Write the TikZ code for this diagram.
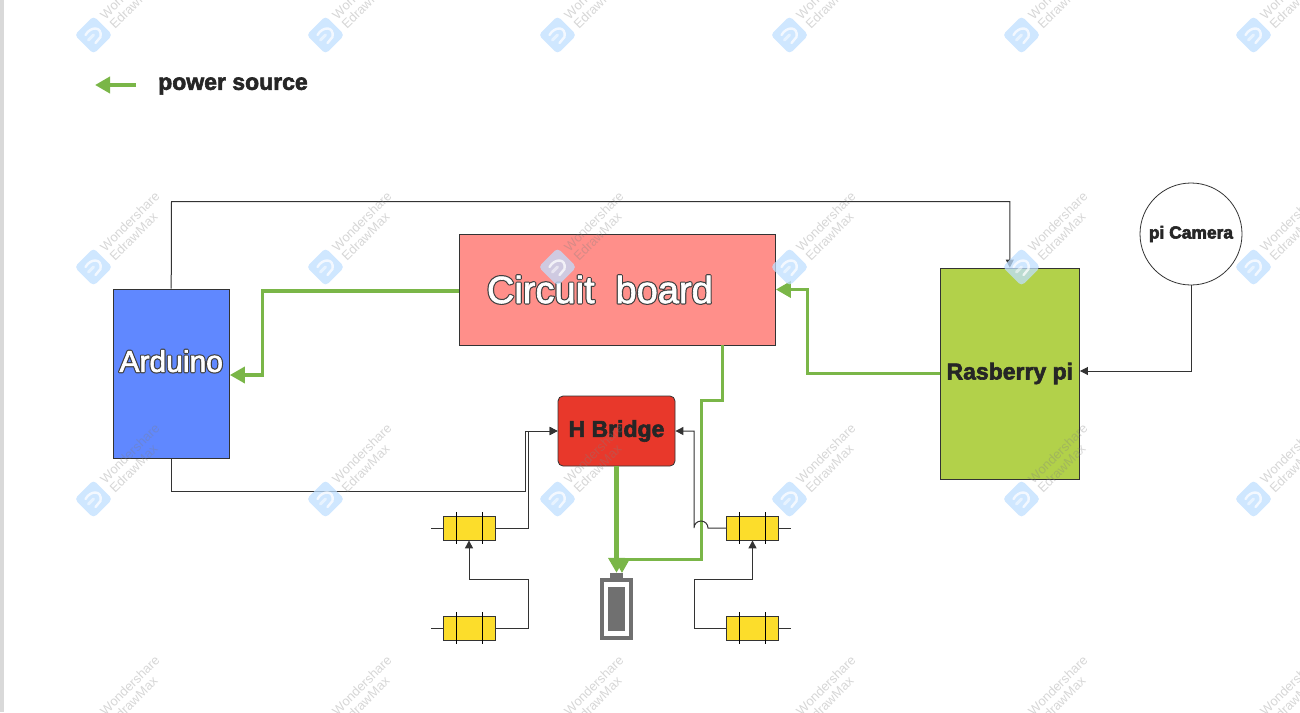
\documentclass[tikz,border=0pt]{standalone}
\usepackage{fontspec}
\setmainfont{Liberation Sans}
\usetikzlibrary{arrows.meta, positioning, calc}
\definecolor{powergreen}{HTML}{7AB648}
\definecolor{linedark}{HTML}{333333}
\definecolor{ardblue}{HTML}{6088FF}
\definecolor{boardred}{HTML}{FF8F8A}
\definecolor{bridgered}{HTML}{E8382B}
\definecolor{pigreen}{HTML}{B2D14A}
\definecolor{resyellow}{HTML}{FCDD2B}
\definecolor{batgray}{HTML}{707070}
\definecolor{wmblue}{HTML}{BFDFFF}
\newcommand{\hollowtext}[1]{\rlap{\special{pdf:code q 1 j 1 Tr 3 w 0.25 0.25 0.25 RG}#1\special{pdf:code Q}}\special{pdf:code q 2 Tr 0.6 w 1 1 1 RG 1 1 1 rg}#1\special{pdf:code Q}}
\newcommand{\heavytext}[1]{\special{pdf:code q 2 Tr 0.6 w 0.15 0.15 0.15 RG 0.15 0.15 0.15 rg}#1\special{pdf:code Q}}
\tikzset{
  block/.style={rectangle, draw=linedark, line width=0.8pt, align=center},
  wire/.style={draw=linedark, line width=1pt},
  wirearrow/.style={wire, -{Triangle[length=8pt,width=8pt]}},
  power/.style={draw=powergreen, line width=3.5pt, -{Triangle[length=15pt,width=16pt]}},
  resistor/.style={rectangle, draw=linedark, line width=0.8pt, fill=resyellow, minimum width=52pt, minimum height=24pt, inner sep=0pt},
  resbar/.style={draw=black, line width=1pt},
  boldlabel/.style={font=\fontsize{23}{25}\selectfont\bfseries}
}
\begin{document}
\begin{tikzpicture}[x=1pt, y=-1pt]
    \useasboundingbox (0,0) rectangle (1300,712);
    \clip (0,0) rectangle (1300,712);
    \fill[gray!30] (0,0) rectangle (3.5,712);

    % Blocks
    \node[block, fill=ardblue, minimum width=116.5pt, minimum height=169pt, inner sep=0pt] (arduino) at (171.2,373.5)
      {\raisebox{25pt}{\fontsize{30}{32}\selectfont\hollowtext{Arduino}}};
    \node[block, fill=boardred, minimum height=111pt, text width=260.5pt, inner xsep=28pt, inner ysep=0pt, align=left] (board) at (617.2,289.5)
      {\fontsize{38}{40}\selectfont\hollowtext{Circuit\hspace{21pt}board}};
    \node[block, boldlabel, fill=bridgered, rounded corners=5pt, minimum width=117pt, minimum height=70pt, inner sep=0pt] (bridge) at (616.5,431) {\raisebox{-2pt}{\heavytext{H Bridge}}};
    \node[block, boldlabel, fill=pigreen, minimum width=139.5pt, minimum height=211pt, inner sep=0pt] (rasberry) at (1009.8,373.5) {\heavytext{Rasberry pi}};
    \node[circle, draw=linedark, line width=0.8pt, minimum size=102pt, inner sep=0pt, font=\fontsize{17.4}{19}\selectfont\bfseries] (camera) at (1191,234) {\heavytext{pi Camera}};

    % Legend
    \node[boldlabel, anchor=west, inner sep=0pt] (legendtext) at (158,86) {\heavytext{power source}};
    \coordinate (legendstart) at (136,85);
    \coordinate (legendend) at (95,85);
    \draw[power, line width=4pt] (legendstart) -- (legendend);

    % Resistors
    \node[resistor] (res1) at (469,528) {};
    \node[resistor] (res2) at (469,628) {};
    \node[resistor] (res3) at (752.5,528) {};
    \node[resistor] (res4) at (752.5,628) {};
    \foreach \r in {res1,res2,res3,res4} {
      \draw[resbar] ($(\r.center)+(-13,-16)$) -- ($(\r.center)+(-13,16)$);
      \draw[resbar] ($(\r.center)+(13,-16)$) -- ($(\r.center)+(13,16)$);
    }

    % Battery
    \node[rectangle, fill=batgray, minimum width=13pt, minimum height=6pt, inner sep=0pt] (batcap) at (616.5,576) {};
    \node[rectangle, draw=batgray, line width=4.2pt, fill=white, minimum width=28.5pt, minimum height=58.5pt, inner sep=0pt] (battery) at (616.5,609) {};
    \node[rectangle, fill=batgray, minimum width=17pt, minimum height=44pt, inner sep=0pt] (batcell) at (616.5,609) {};

    % Power lines
    \coordinate (boardleft) at ($(board.west)+(0,1.5)$);
    \coordinate (ardright) at ($(arduino.east)+(0,1.5)$);
    \draw[power] (boardleft) -- ++(-196,0) |- (ardright);
    \draw[power] (rasberry.west) -- ++(-132,0) |- (board.east);
    \coordinate (boardout) at (722,345);
    \draw[power, line width=3pt] (boardout) |- (701,400) |- (622,559) -- (622,573);
    \draw[power, line width=5pt] (bridge.south) -- (batcap.north);

    % Signal lines
    \coordinate (toprail) at (171.5,201.5);
    \draw[wirearrow] (arduino.north) -- (toprail) -| (rasberry.north);
    \coordinate (lowrail) at (525,491);
    \draw[wirearrow] (arduino.south) |- (lowrail) |- (bridge.west);
    \coordinate (piright) at ($(rasberry.east)+(0,-2.5)$);
    \draw[wirearrow] (camera.south) |- (piright);

    \coordinate (res1stub) at (431,528);
    \coordinate (res2stub) at (431,628);
    \coordinate (res3stub) at (791,528);
    \coordinate (res4stub) at (791,628);
    \foreach \r/\s in {res1/res1stub,res2/res2stub,res3/res3stub,res4/res4stub} {
      \draw[wire] (\r) -- (\s);
    }
    \draw[wirearrow] (res1.east) -- (528,528) |- (bridge.west);
    \draw[wirearrow] (res2.east) -- (528,628) |- (469,579) -- (res1.south);
    \draw[wirearrow] (res4.west) -- (694,628) |- (752.5,579) -- (res3.south);
    \draw[wirearrow] (res3.west) -- (708,528) arc[start angle=0, end angle=180, radius=7pt] |- (bridge.east);

    % Watermark
    \foreach \i/\x in {0/93.5,1/325.5,2/557.5,3/789.5,4/1021.5,5/1253.5} {
      \foreach \j/\y in {0/35,1/267,2/499,3/731} {
        \begin{scope}[shift={(\x,\y)}, opacity=0.75]
          \fill[wmblue, rounded corners=4pt] (-19,0) -- (0,-19) -- (19,0) -- (0,19) -- cycle;
          \draw[white, line width=2.4pt, line cap=round] (-8,0) .. controls (-3,-9) and (9,-9) .. (7,2) -- (2,8);
          \draw[white, opacity=0.5, line width=3pt, line cap=round] (-5,5) -- (0,0);
          \node[rotate=45, align=left, text=gray, opacity=0.32, inner sep=0pt, font=\fontsize{13}{14.5}\selectfont] (mark\i\j) at (41,-41) {Wondershare\\[-1pt]EdrawMax};
        \end{scope}
      }
    }
\end{tikzpicture}
\end{document}
